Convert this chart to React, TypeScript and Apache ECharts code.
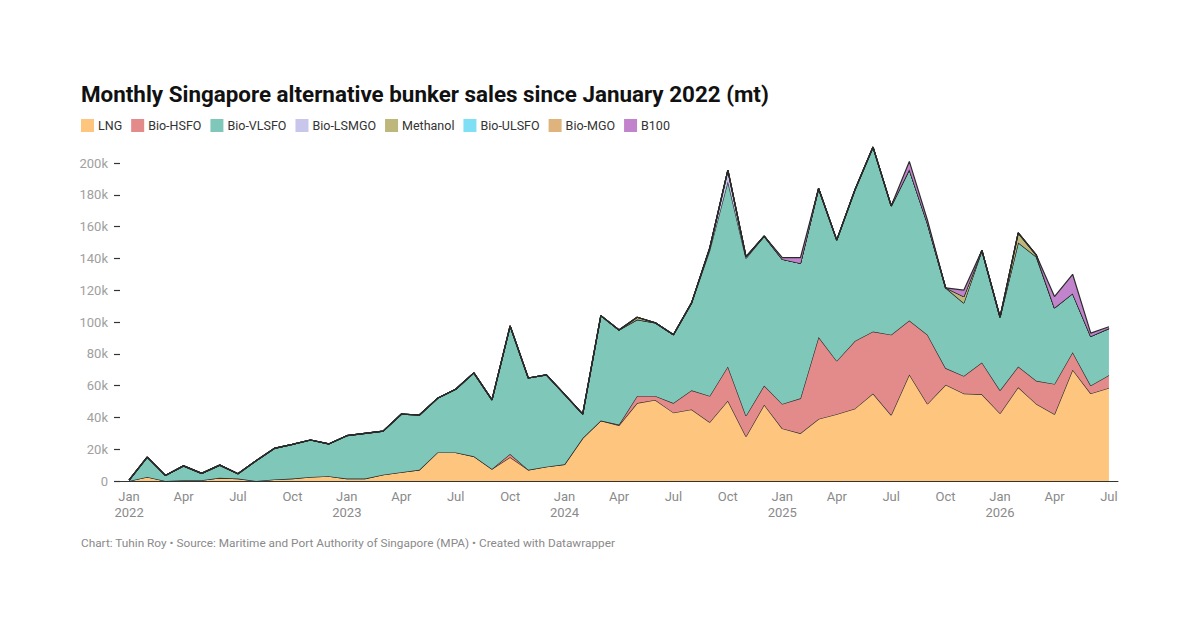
import { useEffect, useRef } from 'react';
import * as echarts from 'echarts';

// monthly sales in thousand tonnes, Jan 2022 .. Jul 2026
const months = [
  'Jan 2022', 'Feb 2022', 'Mar 2022', 'Apr 2022', 'May 2022', 'Jun 2022', 'Jul 2022', 'Aug 2022', 'Sep 2022', 'Oct 2022', 'Nov 2022', 'Dec 2022',
  'Jan 2023', 'Feb 2023', 'Mar 2023', 'Apr 2023', 'May 2023', 'Jun 2023', 'Jul 2023', 'Aug 2023', 'Sep 2023', 'Oct 2023', 'Nov 2023', 'Dec 2023',
  'Jan 2024', 'Feb 2024', 'Mar 2024', 'Apr 2024', 'May 2024', 'Jun 2024', 'Jul 2024', 'Aug 2024', 'Sep 2024', 'Oct 2024', 'Nov 2024', 'Dec 2024',
  'Jan 2025', 'Feb 2025', 'Mar 2025', 'Apr 2025', 'May 2025', 'Jun 2025', 'Jul 2025', 'Aug 2025', 'Sep 2025', 'Oct 2025', 'Nov 2025', 'Dec 2025',
  'Jan 2026', 'Feb 2026', 'Mar 2026', 'Apr 2026', 'May 2026', 'Jun 2026', 'Jul 2026',
];

const lng = [
  0, 2.5, 0, 0.5, 0.5, 2, 1.5, 0, 1, 1.5, 2.5, 3,
  1.5, 1.5, 4, 5.5, 7, 18, 18, 15.5, 7.5, 15, 7, 9,
  10.5, 27, 38, 35, 49, 51, 43, 45, 37, 50.5, 28, 48,
  33, 30, 39, 42, 45.5, 55, 41.5, 67, 48.5, 60.5, 55, 54.5,
  42.5, 59, 48.5, 42, 70, 55, 58.5,
];
const bioHsfo = [
  0, 0, 0, 0, 0, 0, 0, 0, 0, 0, 0, 0,
  0, 0, 0, 0, 0, 0, 0, 0, 0, 2, 0, 0,
  0, 0, 0, 0.5, 4.5, 2.5, 6, 12, 16.5, 21.5, 13, 12,
  15.5, 22, 51.5, 33.5, 42.5, 39, 50.5, 34, 43.5, 10.5, 11, 20,
  14.5, 13, 14.5, 19, 11, 5, 8,
];
const bioVlsfo = [
  0.5, 12.5, 3.5, 9, 4.3, 8, 3.1, 12.8, 19.5, 21.5, 23.3, 20.3,
  27, 28.5, 27.4, 36.5, 34.5, 34, 39.7, 52.5, 43.5, 80.5, 57.8, 57.7,
  44, 15, 66, 59.5, 48, 46, 43, 55, 91.5, 116.5, 99, 94,
  91, 85, 93.5, 76, 95, 116, 81, 95, 70, 50.5, 46, 70.5,
  46, 78, 78, 48, 37, 31, 29.5,
];
const bioLsmgo = [
  0, 0, 0, 0, 0, 0, 0, 0, 0, 0, 0, 0,
  0, 0, 0, 0, 0, 0, 0, 0, 0, 0, 0, 0,
  0, 0, 0, 0, 0, 0, 0, 0, 1.5, 7, 1, 0,
  0, 0, 0, 0, 0, 0, 0, 0, 0, 0, 0, 0,
  0, 0, 0, 0, 0, 0, 0,
];
const methanol = [
  0, 0, 0, 0, 0, 0, 0, 0, 0, 0, 0, 0,
  0, 0, 0, 0, 0, 0, 0, 0, 0, 0, 0, 0,
  0, 0, 0, 0, 1.5, 0, 0, 0, 0, 0, 0, 0,
  0, 0, 0, 0, 0, 0, 0, 0, 0, 0, 4, 0,
  0, 6, 1, 0, 0, 0, 0,
];
const bioUlsfo = [
  0, 0, 0, 0, 0, 0, 0, 0, 0, 0, 0, 0,
  0, 0, 0, 0, 0, 0, 0, 0, 0, 0, 0, 0,
  0, 0, 0, 0, 0, 0, 0, 0, 0, 0, 0, 0,
  0, 0, 0, 0, 0, 0, 0, 0, 0, 0, 0, 0,
  0, 0, 0, 0, 0, 0, 0,
];
const bioMgo = [
  0, 0, 0, 0, 0, 0, 0, 0, 0, 0, 0, 0,
  0, 0, 0, 0, 0, 0, 0, 0, 0, 0, 0, 0,
  0, 0, 0, 0, 0, 0, 0, 0, 0, 0, 0, 0,
  0, 0, 0, 0, 0, 0, 0, 0, 0, 0, 0, 0,
  0, 0, 0, 0, 0, 0, 0,
];
const b100 = [
  0, 0, 0, 0, 0, 0, 0, 0, 0, 0, 0, 0,
  0, 0, 0, 0, 0, 0, 0, 0, 0, 0, 0, 0,
  0, 0, 0, 0, 0, 0, 0, 0, 0, 0, 0, 0,
  1, 3.5, 0, 0, 0, 0, 0, 5, 2, 0, 4, 0,
  0, 0, 0, 7, 12, 2, 1,
];

const seriesNames = ['LNG', 'Bio-HSFO', 'Bio-VLSFO', 'Bio-LSMGO', 'Methanol', 'Bio-ULSFO', 'Bio-MGO', 'B100'];
const seriesData = [lng, bioHsfo, bioVlsfo, bioLsmgo, methanol, bioUlsfo, bioMgo, b100];
const colors = ['#fdc57e', '#e38a8a', '#7fc8b9', '#c8c6ea', '#bdb77b', '#7fdff5', '#deb47c', '#c184cc'];

const FONT = 'Roboto, "Noto Sans", sans-serif';

export default function App() {
  const chartRef = useRef<HTMLDivElement>(null);

  useEffect(() => {
    if (!chartRef.current) return;
    const chart = echarts.init(chartRef.current, null, { renderer: 'svg' });

    chart.setOption({
      animation: false,
      backgroundColor: '#ffffff',
      textStyle: { fontFamily: FONT },
      color: colors,
      title: {
        text: 'Monthly Singapore alternative bunker sales since January 2022 (mt)',
        left: 76,
        top: 78,
        textStyle: { fontSize: 22.4, fontWeight: 'bold', color: '#111', fontFamily: FONT },
      },
      legend: {
        left: 76,
        top: 114,
        icon: 'rect',
        itemWidth: 13,
        itemHeight: 13,
        itemGap: 9,
        data: seriesNames,
        selectedMode: false,
        textStyle: { fontSize: 12.5, color: '#333', fontFamily: FONT, padding: [0, 0, 0, -1] },
      },
      graphic: [
        {
          type: 'text',
          left: 81,
          top: 537,
          style: {
            text: 'Chart: Tuhin Roy • Source: Maritime and Port Authority of Singapore (MPA) • Created with Datawrapper',
            fill: '#8a8a8a',
            fontSize: 11.8,
            fontFamily: FONT,
          },
        },
      ],
      grid: { left: 120, right: 82, top: 163, bottom: 151 },
      xAxis: {
        type: 'category',
        data: months,
        boundaryGap: true,
        axisLine: { lineStyle: { color: '#333', width: 1 } },
        axisTick: { show: false },
        axisLabel: {
          interval: 2,
          color: '#8a8a8a',
          fontSize: 13,
          lineHeight: 16,
          margin: 7,
          fontFamily: FONT,
          formatter: (v: string) => {
            const [m, y] = v.split(' ');
            return m === 'Jan' ? `${m}\n${y}` : m;
          },
        },
      },
      yAxis: {
        type: 'value',
        min: 0,
        max: 200,
        interval: 20,
        axisLine: { show: false },
        axisTick: { show: true, length: 6, lineStyle: { color: '#333', width: 1.2 } },
        splitLine: { show: false },
        axisLabel: {
          color: '#a0a0a0',
          fontSize: 13,
          margin: 12,
          fontFamily: FONT,
          formatter: (v: number) => (v === 0 ? '0' : `${v}k`),
        },
      },
      series: seriesNames.map((name, i) => ({
        name,
        type: 'line',
        stack: 'total',
        data: seriesData[i],
        symbol: 'none',
        clip: false,
        lineStyle: { color: '#2b2b2b', width: 1.2 },
        itemStyle: { color: colors[i] },
        areaStyle: { color: colors[i], opacity: 1 },
        z: 2 + i,
      })),
    });

    return () => chart.dispose();
  }, []);

  return (
    <div
      ref={chartRef}
      style={{ position: 'fixed', left: 0, top: 0, width: 1200, height: 632, background: '#fff' }}
    />
  );
}
